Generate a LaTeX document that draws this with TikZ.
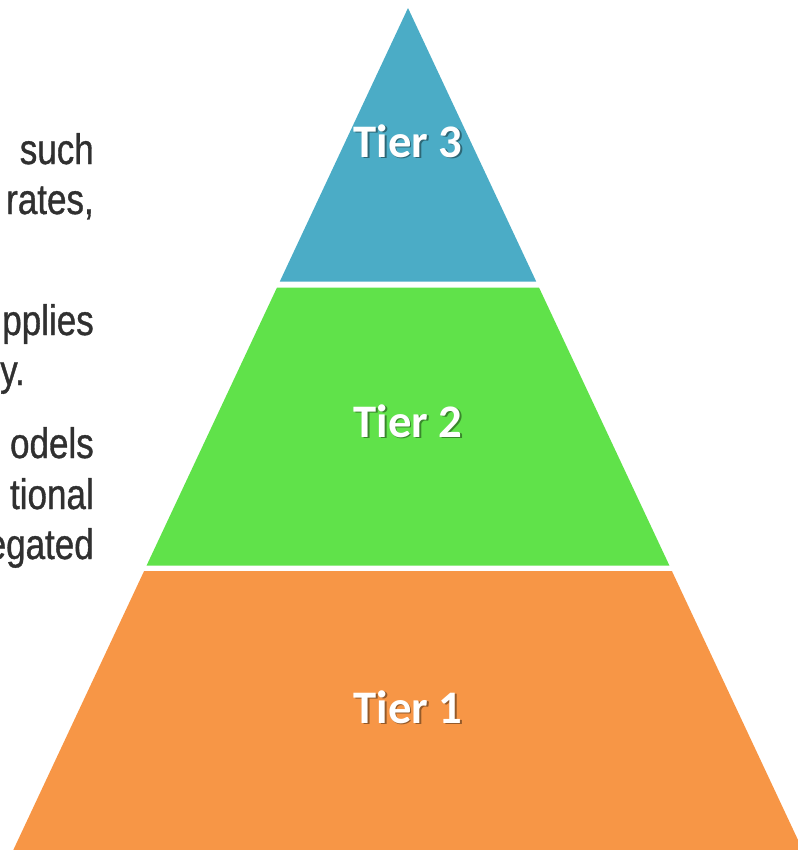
\documentclass[tikz,border=0pt]{standalone}
\usepackage{fontspec}
\setmainfont{Carlito}
\newfontfamily\narrowfont{Liberation Sans}[FakeStretch=0.82,FakeBold=0.8]
\definecolor{tierblue}{HTML}{4BACC6}
\definecolor{tiergreen}{HTML}{60E24A}
\definecolor{tierorange}{HTML}{F79646}
\definecolor{bodygray}{HTML}{303030}

\begin{document}
\begin{tikzpicture}[x=0.75pt,y=-0.75pt,
  body/.style={anchor=base east, inner sep=0pt, text=bodygray,
    font=\narrowfont\fontsize{32}{38}\selectfont},
  tierlabel/.style={inner sep=0pt, anchor=base, text=white,
    font=\bfseries\fontsize{35}{42}\selectfont},
  tiershadow/.style={tierlabel, text=black, opacity=0.4}]
\useasboundingbox (0,0) rectangle (798,850);
\clip (0,0) rectangle (798,850);

% three tiers of one triangle, separated by thin white bands
\fill[tierblue]   (408,8) -- (536.2,281.5) -- (279.8,281.5) -- cycle;
\fill[tiergreen]  (277,287.5) -- (539,287.5) -- (669.4,565.5) -- (146.6,565.5) -- cycle;
\fill[tierorange] (144.1,571) -- (671.9,571) -- (807.4,860) -- (8.6,860) -- cycle;

% tier labels with a soft drop shadow
\foreach \name/\txt/\yy in {t3/Tier 3/157, t2/Tier 2/437, t1/Tier 1/723}{
  \node[tiershadow] (\name s) at (409.5,\yy+1.5) {\txt};
  \node[tierlabel]  (\name)   at (408,\yy) {\txt};
}

% body text running in from the left margin (justified column, right edge at 94)
\node[body] (l1) at (94,164) {such};
\node[body] (l2) at (94,214) {rates,};
\node[body] (l3) at (94,335) {pplies};
\node[body, anchor=base west] (l4) at (0,385) {y.};
\node[body] (l5) at (94,458) {odels};
\node[body] (l6) at (94,509) {tional};
\node[body] (l7) at (94,559) {egated};
\end{tikzpicture}
\end{document}
